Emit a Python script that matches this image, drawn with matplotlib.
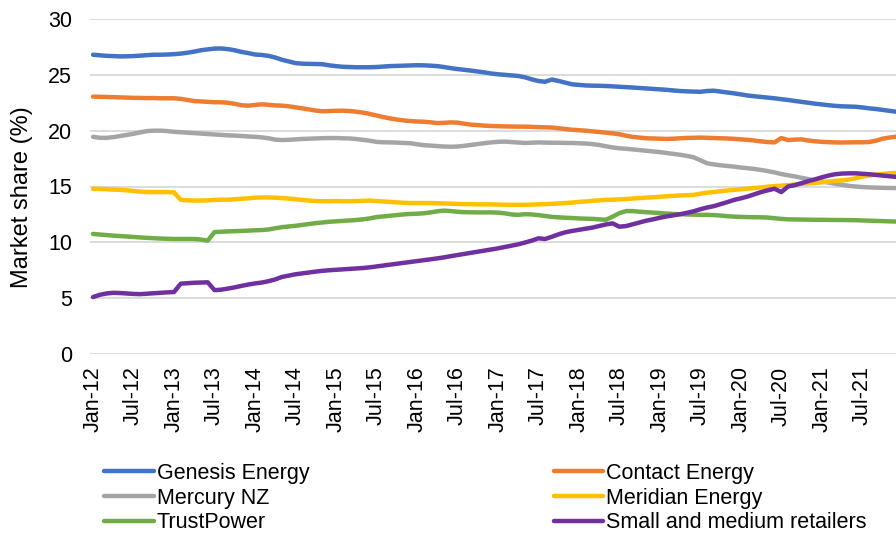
import matplotlib
matplotlib.use("Agg")
import matplotlib.pyplot as plt

plt.rcParams["font.family"] = ["Liberation Sans", "DejaVu Sans"]

# monthly market share (%), Jan-12 .. Dec-21
genesis = [
    26.8, 26.75, 26.7, 26.68, 26.65, 26.66, 26.68, 26.72, 26.76, 26.8, 26.8, 26.82,
    26.85, 26.9, 26.98, 27.08, 27.2, 27.28, 27.35, 27.36, 27.3, 27.2, 27.05, 26.95,
    26.82, 26.78, 26.7, 26.55, 26.35, 26.2, 26.05, 26.0, 25.98, 25.97, 25.95, 25.85,
    25.78, 25.72, 25.7, 25.68, 25.68, 25.68, 25.7, 25.74, 25.78, 25.8, 25.82, 25.84,
    25.86, 25.85, 25.82, 25.78, 25.7, 25.6, 25.52, 25.45, 25.38, 25.3, 25.22, 25.12,
    25.05, 25.0, 24.95, 24.9, 24.78, 24.6, 24.45, 24.38, 24.58, 24.45, 24.3, 24.15,
    24.1, 24.05, 24.03, 24.02, 24.0, 23.97, 23.93, 23.9, 23.86, 23.82, 23.78, 23.74,
    23.7, 23.66, 23.6, 23.55, 23.52, 23.5, 23.48, 23.55, 23.58, 23.5, 23.42, 23.34,
    23.25, 23.15, 23.08, 23.02, 22.96, 22.9, 22.82, 22.75, 22.66, 22.58, 22.5, 22.42,
    22.35, 22.28, 22.22, 22.18, 22.16, 22.14, 22.08, 22.0, 21.94, 21.86, 21.78, 21.7,
]
contact = [
    23.05, 23.03, 23.02, 23.0, 22.98, 22.96, 22.94, 22.93, 22.92, 22.92, 22.9, 22.9,
    22.9, 22.85, 22.75, 22.65, 22.62, 22.58, 22.55, 22.54, 22.5, 22.4, 22.28, 22.24,
    22.3, 22.36, 22.32, 22.26, 22.24, 22.18, 22.09, 22.0, 21.9, 21.8, 21.74, 21.76,
    21.78, 21.79, 21.76, 21.7, 21.62, 21.5, 21.36, 21.22, 21.1, 21.0, 20.92, 20.86,
    20.82, 20.8, 20.75, 20.68, 20.7, 20.74, 20.72, 20.62, 20.54, 20.5, 20.45, 20.42,
    20.4, 20.38, 20.37, 20.36, 20.36, 20.34, 20.32, 20.3, 20.28, 20.22, 20.15, 20.08,
    20.04, 20.0, 19.94, 19.88, 19.82, 19.76, 19.68, 19.55, 19.44, 19.38, 19.32, 19.3,
    19.28, 19.26, 19.28, 19.32, 19.35, 19.36, 19.38, 19.36, 19.34, 19.32, 19.3, 19.27,
    19.22, 19.18, 19.12, 19.04, 18.98, 18.95, 19.34, 19.16, 19.2, 19.22, 19.12, 19.05,
    19.0, 18.97, 18.95, 18.94, 18.95, 18.96, 18.96, 18.98, 19.1, 19.28, 19.38, 19.46,
]
mercury = [
    19.45, 19.36, 19.36, 19.42, 19.52, 19.62, 19.72, 19.85, 19.96, 20.0, 20.0, 19.96,
    19.9, 19.86, 19.82, 19.78, 19.74, 19.7, 19.66, 19.62, 19.58, 19.56, 19.52, 19.48,
    19.45, 19.4, 19.32, 19.2, 19.16, 19.18, 19.22, 19.26, 19.28, 19.3, 19.33, 19.34,
    19.34, 19.32, 19.3, 19.25, 19.18, 19.1, 19.0, 18.96, 18.95, 18.93, 18.9, 18.88,
    18.78, 18.7, 18.66, 18.62, 18.58, 18.56, 18.58, 18.64, 18.72, 18.8, 18.88, 18.95,
    19.0, 19.02, 18.98, 18.94, 18.9, 18.92, 18.95, 18.93, 18.92, 18.92, 18.9, 18.9,
    18.87, 18.85, 18.8, 18.72, 18.6, 18.5, 18.42, 18.38, 18.32, 18.26, 18.2, 18.14,
    18.08, 18.0, 17.92, 17.84, 17.74, 17.62, 17.35, 17.08, 16.98, 16.9, 16.84, 16.78,
    16.7, 16.64, 16.57, 16.48, 16.38, 16.26, 16.12, 16.0, 15.9, 15.78, 15.66, 15.55,
    15.45, 15.35, 15.25, 15.15, 15.06, 15.0, 14.95, 14.92, 14.9, 14.88, 14.87, 14.86,
]
meridian = [
    14.8, 14.78, 14.76, 14.72, 14.7, 14.66, 14.6, 14.54, 14.5, 14.5, 14.5, 14.5,
    14.48, 13.8, 13.76, 13.74, 13.74, 13.76, 13.8, 13.82, 13.82, 13.86, 13.9, 13.94,
    14.0, 14.02, 14.02, 14.0, 13.96, 13.92, 13.86, 13.8, 13.74, 13.7, 13.68, 13.68,
    13.7, 13.68, 13.68, 13.7, 13.72, 13.74, 13.7, 13.66, 13.62, 13.58, 13.54, 13.52,
    13.52, 13.52, 13.52, 13.5, 13.48, 13.46, 13.44, 13.42, 13.42, 13.4, 13.4, 13.4,
    13.38, 13.37, 13.36, 13.36, 13.36, 13.38, 13.4, 13.42, 13.45, 13.48, 13.52, 13.56,
    13.62, 13.66, 13.72, 13.76, 13.8, 13.82, 13.85, 13.88, 13.92, 13.96, 14.0, 14.04,
    14.08, 14.12, 14.16, 14.2, 14.22, 14.25, 14.35, 14.45, 14.5, 14.58, 14.64, 14.7,
    14.76, 14.8, 14.86, 14.92, 14.98, 15.04, 15.08, 15.12, 15.18, 15.24, 15.28, 15.32,
    15.38, 15.44, 15.5, 15.55, 15.62, 15.74, 15.88, 15.98, 16.06, 16.12, 16.18, 16.22,
]
trustpower = [
    10.75, 10.7, 10.65, 10.6, 10.56, 10.52, 10.48, 10.44, 10.4, 10.37, 10.34, 10.32,
    10.3, 10.3, 10.3, 10.3, 10.25, 10.15, 10.92, 10.95, 10.98, 11.0, 11.02, 11.05,
    11.08, 11.1, 11.15, 11.26, 11.36, 11.42, 11.48, 11.56, 11.64, 11.72, 11.78, 11.84,
    11.88, 11.92, 11.96, 12.0, 12.06, 12.14, 12.26, 12.32, 12.38, 12.44, 12.5, 12.54,
    12.56, 12.6, 12.68, 12.78, 12.84, 12.8, 12.74, 12.7, 12.69, 12.68, 12.68, 12.68,
    12.66, 12.6, 12.5, 12.46, 12.52, 12.5, 12.44, 12.36, 12.28, 12.24, 12.2, 12.18,
    12.14, 12.12, 12.1, 12.06, 12.02, 12.3, 12.62, 12.8, 12.8, 12.74, 12.7, 12.66,
    12.62, 12.58, 12.54, 12.52, 12.5, 12.48, 12.46, 12.46, 12.44, 12.4, 12.34, 12.3,
    12.28, 12.26, 12.25, 12.24, 12.22, 12.16, 12.1, 12.06, 12.05, 12.04, 12.03, 12.02,
    12.02, 12.01, 12.0, 12.0, 11.99, 11.98, 11.96, 11.94, 11.92, 11.9, 11.88, 11.86,
]
small_medium = [
    5.1, 5.3, 5.42, 5.48, 5.46, 5.42, 5.38, 5.36, 5.4, 5.44, 5.48, 5.52,
    5.55, 6.3, 6.34, 6.38, 6.4, 6.42, 5.72, 5.76, 5.86, 5.97, 6.1, 6.22,
    6.32, 6.4, 6.52, 6.68, 6.9, 7.02, 7.14, 7.22, 7.3, 7.38, 7.45, 7.5,
    7.54, 7.58, 7.62, 7.66, 7.7, 7.76, 7.84, 7.92, 8.0, 8.08, 8.16, 8.24,
    8.32, 8.4, 8.48, 8.56, 8.65, 8.76, 8.86, 8.96, 9.06, 9.16, 9.26, 9.36,
    9.46, 9.58, 9.7, 9.82, 9.98, 10.15, 10.36, 10.3, 10.5, 10.72, 10.9, 11.02,
    11.12, 11.22, 11.32, 11.46, 11.6, 11.7, 11.4, 11.46, 11.62, 11.78, 11.94, 12.06,
    12.2, 12.32, 12.42, 12.52, 12.64, 12.78, 12.96, 13.12, 13.24, 13.42, 13.6, 13.8,
    13.94, 14.1, 14.3, 14.5, 14.66, 14.8, 14.5, 15.0, 15.12, 15.3, 15.48, 15.64,
    15.82, 15.98, 16.1, 16.16, 16.18, 16.18, 16.14, 16.1, 16.04, 15.98, 15.92, 15.86,
]

tick_labels = [
    "Jan-12", "Jul-12", "Jan-13", "Jul-13", "Jan-14", "Jul-14", "Jan-15",
    "Jul-15", "Jan-16", "Jul-16", "Jan-17", "Jul-17", "Jan-18", "Jul-18",
    "Jan-19", "Jul-19", "Jan-20", "Jul-20", "Jan-21", "Jul-21",
]

series = [
    ("Genesis Energy", genesis, "#4472C4"),
    ("Contact Energy", contact, "#ED7D31"),
    ("Mercury NZ", mercury, "#A5A5A5"),
    ("Meridian Energy", meridian, "#FFC000"),
    ("TrustPower", trustpower, "#70AD47"),
    ("Small and medium retailers", small_medium, "#7030A0"),
]

fig = plt.figure(figsize=(8.96, 5.36), dpi=100)
ax = fig.add_axes([90 / 896, 1 - 354 / 536, 806 / 896, 335 / 536])

months = list(range(len(genesis)))
lines = {}
for name, vals, col in series:
    (ln,) = ax.plot(months, vals, color=col, lw=3.2, solid_capstyle="round",
                    solid_joinstyle="round", label=name, zorder=3)
    lines[name] = ln

ax.set_ylim(0, 30)
ax.set_yticks(range(0, 31, 5))
ax.set_xlim(-0.45, 119)
ax.set_xticks(range(0, 120, 6))
ax.set_xticklabels(tick_labels, rotation=90)
ax.grid(axis="y", color="#D9D9D9", lw=1.3)
ax.set_axisbelow(True)
for s in ax.spines.values():
    s.set_visible(False)
ax.tick_params(axis="y", length=0, pad=13, labelsize=15.5, colors="#000000")
ax.tick_params(axis="x", length=0, pad=9, labelsize=15.5)

fig.text(22 / 896, 1 - 197 / 536, "Market share (%)", rotation=90,
         ha="center", va="center", fontsize=17)

order = ["Genesis Energy", "Mercury NZ", "TrustPower",
         "Contact Energy", "Meridian Energy", "Small and medium retailers"]
fig.legend([lines[n] for n in order], order, ncol=2, frameon=False,
           loc="upper left", bbox_to_anchor=(104 / 896, 1 - 463 / 536),
           fontsize=15.5, handlelength=2.3, handletextpad=0.15,
           columnspacing=11.35, labelspacing=0.17, borderpad=0, borderaxespad=0)

fig.savefig("out.png", dpi=100)
